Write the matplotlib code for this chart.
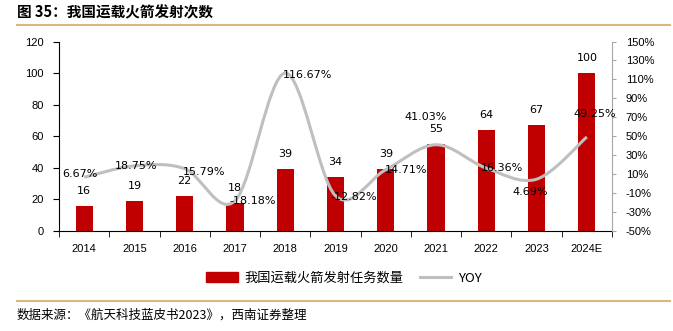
"""
Chart: China launch vehicle launch counts (bars) with YOY growth (smooth line)
"""

import matplotlib
matplotlib.use("Agg")
import matplotlib.pyplot as plt
from matplotlib.path import Path
from matplotlib.patches import PathPatch, Patch
from matplotlib.lines import Line2D
from matplotlib.ticker import FixedLocator, NullFormatter

# Data
years = ["2014", "2015", "2016", "2017", "2018", "2019", "2020", "2021", "2022", "2023", "2024E"]
launches = [16, 19, 22, 18, 39, 34, 39, 55, 64, 67, 100]
yoy = [6.67, 18.75, 15.79, -18.18, 116.67, -12.82, 14.71, 41.03, 16.36, 4.69, 49.25]

bar_name = "我国运载火箭发射任务数量"
line_name = "YOY"
title = "图 35：我国运载火箭发射次数"
source = "数据来源：《航天科技蓝皮书2023》，西南证券整理"

# Label offsets for the YOY labels, in pixels (layout only)
yoy_offsets = [(-4, 3), (2, 0), (19, -3), (18, 0), (22, -2), (18, -1),
               (20, 0), (-10, 28), (16, 0), (-6, -13), (8, 23)]

CJK = ["Noto Sans CJK SC", "DejaVu Sans"]
RED = "#C00000"
GREY = "#BFBFBF"
TAN = "#D9B77E"

fig = plt.figure(figsize=(6.73, 3.31), dpi=100)
W, H = 673, 331
ax = fig.add_axes([59 / W, 1 - 231 / H, (612 - 59) / W, (231 - 41.5) / H])
ax2 = ax.twinx()

x = list(range(len(years)))

# Bars on the left axis
ax.bar(x, launches, width=0.34, color=RED, zorder=2)
ax.set_xlim(-0.5, len(years) - 0.5)
ax.set_ylim(0, 120)
ax.set_yticks(range(0, 121, 20))

# Smooth YOY line (Catmull-Rom through the points, drawn as cubic Beziers)
pts = list(zip(x, yoy))
verts = [pts[0]]
codes = [Path.MOVETO]
for i in range(len(pts) - 1):
    p0 = pts[i - 1] if i > 0 else pts[i]
    p1 = pts[i]
    p2 = pts[i + 1]
    p3 = pts[i + 2] if i + 2 < len(pts) else pts[i + 1]
    c1 = (p1[0] + (p2[0] - p0[0]) / 6, p1[1] + (p2[1] - p0[1]) / 6)
    c2 = (p2[0] - (p3[0] - p1[0]) / 6, p2[1] - (p3[1] - p1[1]) / 6)
    verts += [c1, c2, p2]
    codes += [Path.CURVE4] * 3
ax2.add_patch(PathPatch(Path(verts, codes), fill=False, edgecolor=GREY, lw=2.2, zorder=3))
ax2.set_ylim(-50, 150)
ax2.set_yticks(range(-50, 151, 20))
ax2.set_yticklabels([f"{v}%" for v in range(-50, 151, 20)])

# Bar value labels
for xi, v in zip(x, launches):
    ax.annotate(str(v), (xi, v), xytext=(0, 15), textcoords="offset pixels",
                ha="center", va="center", fontsize=8, family="DejaVu Sans", zorder=5)

# YOY labels
for xi, v, (dx, dy) in zip(x, yoy, yoy_offsets):
    ax2.annotate(f"{v:.2f}%", (xi, v), xytext=(dx, dy), textcoords="offset pixels",
                 ha="center", va="center", fontsize=8, family="DejaVu Sans", zorder=5)

# Axes styling
for s in ["top", "right"]:
    ax.spines[s].set_visible(False)
ax.spines["left"].set_color("black")
ax.spines["bottom"].set_color("black")
ax2.spines["top"].set_visible(False)
ax2.spines["left"].set_visible(False)
ax2.spines["bottom"].set_visible(False)
ax2.spines["right"].set_color("#A6A6A6")

ax.set_xticks(x)
ax.set_xticklabels(years)
ax.xaxis.set_minor_locator(FixedLocator([i + 0.5 for i in range(-1, len(years))]))
ax.xaxis.set_minor_formatter(NullFormatter())
ax.tick_params(axis="x", which="major", length=0, pad=9)
ax.tick_params(axis="x", which="minor", length=4, direction="out", color="black")
ax.tick_params(axis="y", length=4, direction="out", pad=7)
ax2.tick_params(axis="y", length=3, direction="out", pad=7, color="#A6A6A6")
for lab in ax.get_xticklabels() + ax.get_yticklabels() + ax2.get_yticklabels():
    lab.set_fontfamily("Liberation Sans")
    lab.set_fontsize(8)

# Legend
handles = [Patch(color=RED), Line2D([], [], color=GREY, lw=2.2)]
fig.legend(handles, [bar_name, line_name], loc="center", bbox_to_anchor=(344 / W, 1 - 278 / H),
           ncol=2, frameon=False, handlelength=2.4, handletextpad=0.5, columnspacing=1.2,
           prop={"family": CJK, "size": 9.5})

# Title, source and rules
fig.text(17 / W, 1 - 12 / H, title, ha="left", va="center", fontsize=10.5,
         fontweight="bold", family=CJK)
fig.text(17 / W, 1 - 315 / H, source, ha="left", va="center", fontsize=9,
         style="italic", family=CJK)
fig.add_artist(Line2D([17 / W, 670 / W], [1 - 25 / H] * 2, color=TAN, lw=1.5,
                      transform=fig.transFigure))
fig.add_artist(Line2D([17 / W, 670 / W], [1 - 301 / H] * 2, color=TAN, lw=1.5,
                      transform=fig.transFigure))

fig.savefig("out.png", dpi=100)
